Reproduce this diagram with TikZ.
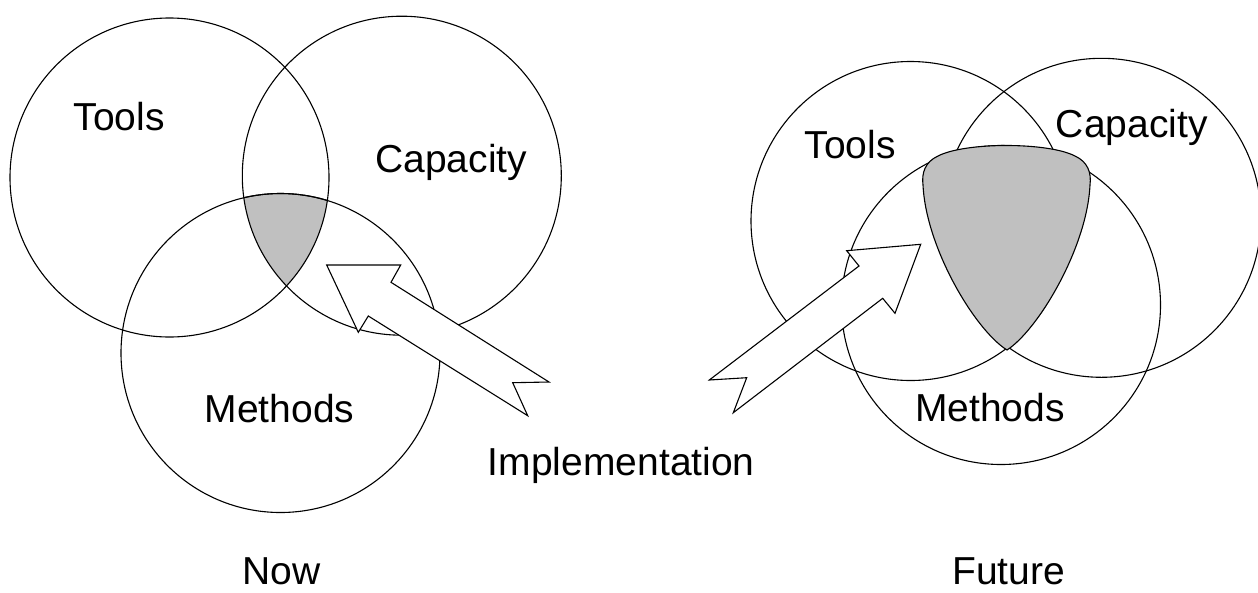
\documentclass[tikz,border=0pt]{standalone}
\usepackage{fontspec}
\setmainfont{Liberation Sans}

\begin{document}
\begin{tikzpicture}[x=1pt,y=-1pt,
  ring/.style={circle,draw,line width=1.1pt,minimum size=319pt,inner sep=0pt},
  tag/.style={anchor=base,inner sep=0pt,font=\fontsize{39}{47}\selectfont},
  overlap/.style={fill={rgb,255:red,192;green,192;blue,192},draw,line width=1.1pt},
  blockarrow/.style={fill=white,draw,line width=1.1pt,line join=miter}]
\def \rad {159.5pt}
\useasboundingbox (0,0) rectangle (1258,592);
\coordinate (ct) at (169.5,177.5);
\coordinate (cc) at (401.8,175.7);
\coordinate (cm) at (280.5,353);
\begin{scope}
\clip (ct) circle (\rad);
\clip (cc) circle (\rad);
\fill[overlap] (cm) circle (\rad);
\end{scope}
\node[ring] (tools1) at (ct) {};
\node[ring] (cap1) at (cc) {};
\node[ring] (meth1) at (cm) {};
\draw[blockarrow] (326.7,265) -- (400.7,265) -- (391,282.3) -- (549,382) -- (512.7,382.7)
  -- (527.7,415.7) -- (368.3,316) -- (358.3,332.3) -- cycle;
\node[ring] (tools2) at (910.5,221) {};
\node[ring] (cap2) at (1101.5,217.8) {};
\node[ring] (meth2) at (1001,305) {};
\draw[overlap] (1007,350) .. controls (975,330) and (926,248) .. (923,185)
  .. controls (921.5,173) and (925,162) .. (938,156)
  .. controls (965,142) and (1048,142) .. (1075,156)
  .. controls (1088,162) and (1091.5,173) .. (1090,185)
  .. controls (1087,248) and (1038,330) .. (1007,350) -- cycle;
\draw[blockarrow] (920.7,244.3) -- (895,313.3) -- (882.7,298.3) -- (733.3,412.7) -- (746.7,377.7)
  -- (709.3,380) -- (859,266) -- (846.7,250.7) -- cycle;
\node[tag] (ltools) at (119.2,130.7) {Tools};
\node[tag] (lcap) at (451.3,172.3) {Capacity};
\node[tag] (lmeth) at (279.5,422.7) {Methods};
\node[tag] (now) at (281.7,584) {Now};
\node[tag] (impl) at (621.3,475) {Implementation};
\node[tag] (rtools) at (850,158.3) {Tools};
\node[tag] (rcap) at (1131.8,137) {Capacity};
\node[tag] (rmeth) at (990,421.7) {Methods};
\node[tag] (future) at (1008.7,584) {Future};
\end{tikzpicture}
\end{document}
